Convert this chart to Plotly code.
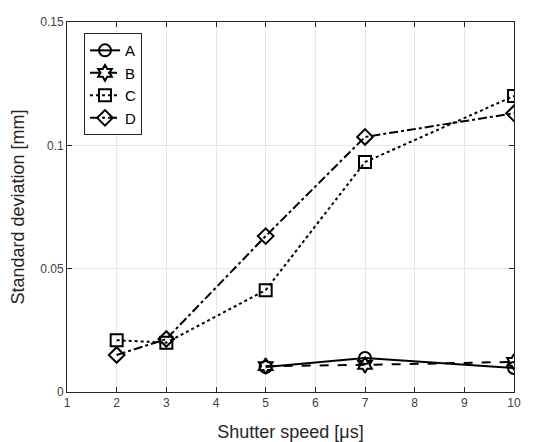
import plotly.graph_objects as go

x_A = [5, 7, 10]
y_A = [0.0101, 0.0138, 0.0097]
x_B = [5, 7, 10]
y_B = [0.0105, 0.0110, 0.0122]
x_C = [2, 3, 5, 7, 10]
y_C = [0.0210, 0.0200, 0.0413, 0.0932, 0.1200]
x_D = [2, 3, 5, 7, 10]
y_D = [0.0150, 0.0215, 0.0632, 0.1034, 0.1130]

series = [
    ("A", x_A, y_A, "solid", "circle-open"),
    ("B", x_B, y_B, "dash", "hexagram-open"),
    ("C", x_C, y_C, "dot", "square-open"),
    ("D", x_D, y_D, "dashdot", "diamond-open"),
]

fig = go.Figure()
for name, xs, ys, dash, sym in series:
    fig.add_trace(go.Scatter(
        x=xs, y=ys, name=name, mode="lines+markers",
        line=dict(color="black", width=2, dash=dash),
        marker=dict(symbol=sym, size=12, color="black", line=dict(width=2, color="black")),
    ))

axis_common = dict(
    showline=True, linecolor="#262626", linewidth=1, mirror="ticks",
    ticks="inside", ticklen=5, tickcolor="#262626",
    showgrid=True, gridcolor="#e6e6e6", gridwidth=1, zeroline=False,
    automargin=False,
    tickfont=dict(family="Liberation Sans, Arial", size=12, color="#404040"),
)

fig.update_layout(
    width=553, height=442,
    margin=dict(l=67, r=39, t=22, b=50),
    plot_bgcolor="white", paper_bgcolor="white",
    font=dict(family="Liberation Sans, Arial", color="#262626"),
    xaxis=dict(range=[1, 10], tickvals=list(range(1, 11)),
               title=dict(text="Shutter speed [μs]", font=dict(size=18), standoff=15),
               **axis_common),
    yaxis=dict(range=[0, 0.15], tickvals=[0, 0.05, 0.1, 0.15], ticktext=["0", "0.05", "0.1", "0.15"],
               title=dict(text="Standard deviation [mm]", font=dict(size=18), standoff=10),
               **axis_common),
    legend=dict(x=0.038, y=0.97, xanchor="left", yanchor="top",
                bordercolor="#262626", borderwidth=1, bgcolor="white",
                font=dict(size=15, color="black"), itemwidth=30, tracegroupgap=0),
    showlegend=True,
)

fig.write_html("out.html")
